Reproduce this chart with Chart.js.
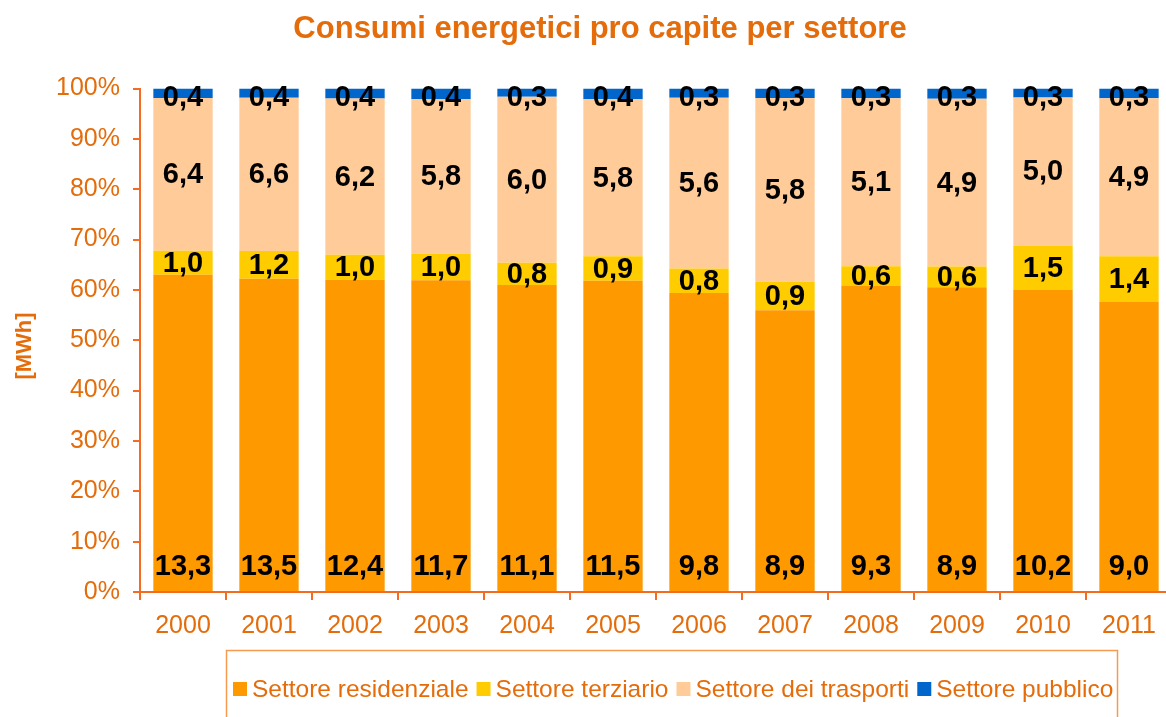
<!DOCTYPE html>
<html>
<head>
<meta charset="utf-8">
<script src="https://cdn.jsdelivr.net/npm/chart.js@4.4.1/dist/chart.umd.min.js"></script>
<style>
  html, body { margin: 0; padding: 0; background: #ffffff; overflow: hidden; }
  #wrap { width: 1180px; height: 717px; }
</style>
</head>
<body>
<div id="wrap"><canvas id="c" width="1180" height="717"></canvas></div>
<script>
// ---- Data (MWh pro capite) ----
const years = ['2000','2001','2002','2003','2004','2005','2006','2007','2008','2009','2010','2011'];
const residenziale = [13.3, 13.5, 12.4, 11.7, 11.1, 11.5, 9.8, 8.9, 9.3, 8.9, 10.2, 9.0];
const terziario    = [1.0, 1.2, 1.0, 1.0, 0.8, 0.9, 0.8, 0.9, 0.6, 0.6, 1.5, 1.4];
const trasporti    = [6.4, 6.6, 6.2, 5.8, 6.0, 5.8, 5.6, 5.8, 5.1, 4.9, 5.0, 4.9];
const pubblico     = [0.4, 0.4, 0.4, 0.4, 0.3, 0.4, 0.3, 0.3, 0.3, 0.3, 0.3, 0.3];
const seriesNames  = ['Settore residenziale', 'Settore terziario', 'Settore dei trasporti', 'Settore pubblico'];
const yTicks = [0, 10, 20, 30, 40, 50, 60, 70, 80, 90, 100];

const colors = ['#FF9900', '#FFCC00', '#FFCC99', '#0066CC'];
const textOrange = '#E46C0A';
const axisOrange = '#F36C21';
const FONT = "'Liberation Sans', Arial, sans-serif";

const raw = [residenziale, terziario, trasporti, pubblico];
const totals = years.map((_, i) => raw.reduce((s, arr) => s + arr[i], 0));
const pct = raw.map(arr => arr.map((v, i) => v / totals[i] * 100));

const fmt = v => v.toFixed(1).replace('.', ',');

const labelPlugin = {
  id: 'segLabels',
  afterDatasetsDraw(chart) {
    const ctx = chart.ctx;
    const top = chart.chartArea.top;
    ctx.save();
    ctx.font = "bold 29px " + FONT;
    ctx.fillStyle = '#000000';
    ctx.textAlign = 'center';
    ctx.textBaseline = 'middle';
    chart.data.datasets.forEach((ds, di) => {
      const meta = chart.getDatasetMeta(di);
      meta.data.forEach((bar, i) => {
        const props = bar.getProps(['x', 'y', 'base'], true);
        let y;
        if (di === 0) y = props.base - 24;
        else y = Math.max((props.y + props.base) / 2 + 1, top + 9);
        ctx.fillText(fmt(raw[di][i]), props.x, y);
      });
    });
    ctx.restore();
  }
};

const decorPlugin = {
  id: 'decor',
  afterDraw(chart) {
    const ctx = chart.ctx;
    ctx.save();
    // Title
    ctx.font = "bold 31px " + FONT;
    ctx.fillStyle = textOrange;
    ctx.textAlign = 'center';
    ctx.textBaseline = 'alphabetic';
    ctx.fillText('Consumi energetici pro capite per settore', 600, 38);
    // Y axis title
    ctx.save();
    ctx.translate(25, 346);
    ctx.rotate(-Math.PI / 2);
    ctx.font = "bold 22px " + FONT;
    ctx.textBaseline = 'middle';
    ctx.fillText('[MWh]', 0, 0);
    ctx.restore();
    // Legend box
    ctx.strokeStyle = '#F59A4E';
    ctx.lineWidth = 1.5;
    ctx.strokeRect(226.5, 650.5, 891, 100);
    // Legend items
    ctx.font = "24.5px " + FONT;
    ctx.textAlign = 'left';
    ctx.textBaseline = 'middle';
    let x = 233;
    const yc = 689;
    seriesNames.forEach((name, i) => {
      ctx.fillStyle = colors[i];
      ctx.fillRect(x, yc - 7, 14, 14);
      x += 14 + 5;
      ctx.fillStyle = textOrange;
      ctx.fillText(name, x, yc + 1);
      x += ctx.measureText(name).width + 8;
    });
    ctx.restore();
  }
};

new Chart(document.getElementById('c'), {
  type: 'bar',
  data: {
    labels: years,
    datasets: seriesNames.map((name, i) => ({
      label: name,
      data: pct[i],
      backgroundColor: colors[i],
      borderWidth: 0,
      barPercentage: 0.69,
      categoryPercentage: 1.0
    }))
  },
  options: {
    responsive: false,
    animation: false,
    devicePixelRatio: 1,
    layout: { padding: { left: 0, right: 8, top: 88.5, bottom: 0 } },
    plugins: {
      legend: { display: false },
      title: { display: false },
      tooltip: { enabled: false }
    },
    scales: {
      x: {
        stacked: true,
        afterFit(scale) { scale.height = 125; },
        grid: {
          offset: true,
          drawOnChartArea: false,
          drawTicks: true,
          tickLength: 8,
          color: axisOrange,
          lineWidth: 2
        },
        border: { color: axisOrange, width: 2 },
        ticks: {
          color: textOrange,
          font: { family: FONT, size: 25 },
          padding: 11,
          maxRotation: 0
        }
      },
      y: {
        stacked: true,
        min: 0,
        max: 100,
        afterFit(scale) { scale.width = 140; },
        afterBuildTicks(scale) { scale.ticks = yTicks.map(v => ({ value: v })); },
        grid: {
          drawOnChartArea: false,
          drawTicks: true,
          tickLength: 7,
          color: axisOrange,
          lineWidth: 2
        },
        border: { color: axisOrange, width: 2 },
        ticks: {
          color: textOrange,
          font: { family: FONT, size: 25 },
          padding: 13,
          callback: v => v + '%'
        }
      }
    }
  },
  plugins: [labelPlugin, decorPlugin]
});
</script>
</body>
</html>
